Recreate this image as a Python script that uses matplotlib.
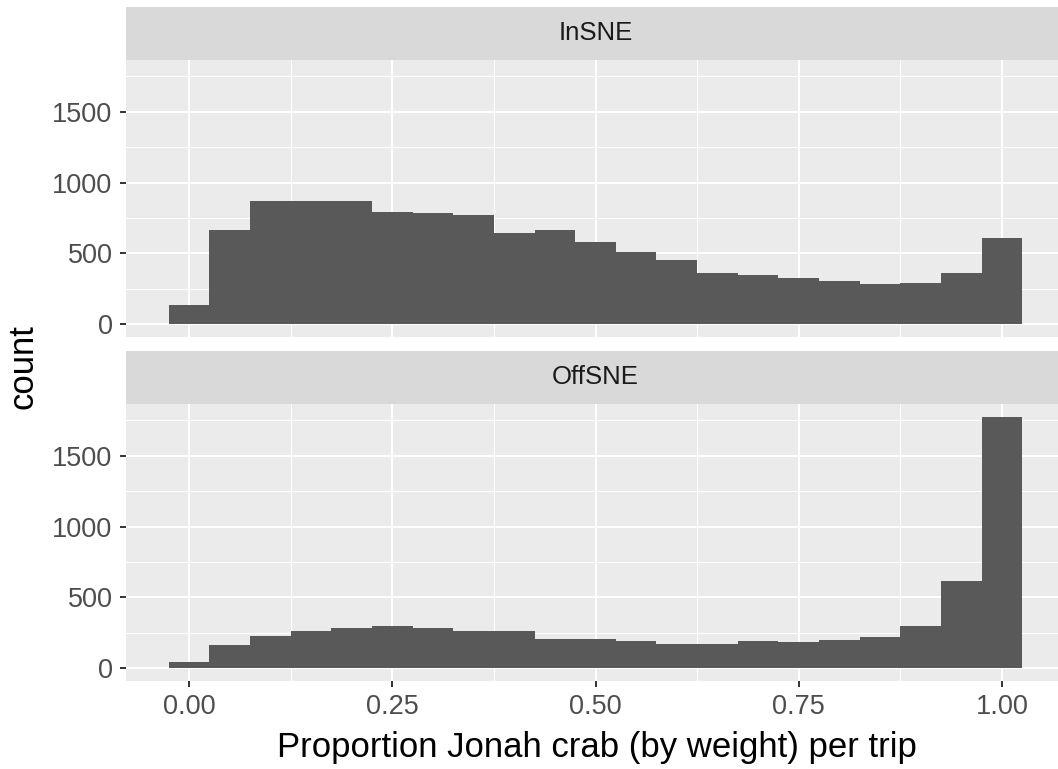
import matplotlib
matplotlib.use("Agg")
import matplotlib.pyplot as plt
import numpy as np

# ---- data ----
panels = ["InSNE", "OffSNE"]
bin_centers = [0.00, 0.05, 0.10, 0.15, 0.20, 0.25, 0.30, 0.35, 0.40, 0.45,
               0.50, 0.55, 0.60, 0.65, 0.70, 0.75, 0.80, 0.85, 0.90, 0.95, 1.00]
binwidth = 0.05
counts_insne = [140, 665, 872, 870, 868, 792, 783, 769, 646, 668,
                582, 511, 457, 365, 351, 330, 306, 288, 290, 365, 606]
counts_offsne = [47, 166, 230, 261, 285, 296, 285, 261, 261, 207,
                 207, 194, 175, 175, 194, 188, 199, 223, 296, 617, 1775]
x_ticks = [0.00, 0.25, 0.50, 0.75, 1.00]
x_ticklabels = ["0.00", "0.25", "0.50", "0.75", "1.00"]
y_ticks = [0, 500, 1000, 1500]
y_ticklabels = ["0", "500", "1000", "1500"]
x_title = "Proportion Jonah crab (by weight) per trip"
y_title = "count"

plt.rcParams['font.family'] = ['Liberation Sans', 'DejaVu Sans']

W, H = 1058, 769
fig = plt.figure(figsize=(W / 100, H / 100), dpi=100)
fig.patch.set_facecolor("white")

def fx(px):
    return px / W

def fy(py_top, py_bottom):
    return (H - py_bottom) / H, (py_bottom - py_top) / H

left_px, right_px = 126, 1065
layout = [  # strip top, strip bottom/panel top, panel bottom
    (7, 60, 337),
    (351, 404, 681),
]

xmin_data = bin_centers[0] - binwidth / 2
xmax_data = bin_centers[-1] + binwidth / 2
xr = xmax_data - xmin_data
xlim = (xmin_data - 0.05 * xr, xmax_data + 0.05 * xr)
ymax_data = max(max(counts_insne), max(counts_offsne))
ylim = (-0.05 * ymax_data, 1.05 * ymax_data)

series = [counts_insne, counts_offsne]
tick_color = "#333333"
label_color = "#4D4D4D"
tick_fs = 19.5
title_fs = 25

for i, (name, counts) in enumerate(zip(panels, series)):
    st, pt, pb = layout[i]
    # strip
    b, h = fy(st, pt)
    sax = fig.add_axes([fx(left_px), b, fx(right_px - left_px), h])
    sax.set_facecolor("#D9D9D9")
    sax.set_xticks([]); sax.set_yticks([])
    for s in sax.spines.values():
        s.set_visible(False)
    sax.text((595.5 - left_px) / (right_px - left_px), 0.5, name,
             transform=sax.transAxes, ha="center", va="center",
             fontsize=18.5, color="#1A1A1A")

    # panel
    b, h = fy(pt, pb)
    ax = fig.add_axes([fx(left_px), b, fx(right_px - left_px), h])
    ax.set_facecolor("#EBEBEB")
    ax.set_xlim(xlim)
    ax.set_ylim(ylim)
    for s in ax.spines.values():
        s.set_visible(False)
    ax.set_axisbelow(True)
    ax.set_xticks(x_ticks)
    ax.set_yticks(y_ticks)
    ax.set_xticks([0.125, 0.375, 0.625, 0.875], minor=True)
    ax.set_yticks([250, 750, 1250, 1750], minor=True)
    ax.grid(which="major", color="white", linewidth=1.5)
    ax.grid(which="minor", color="white", linewidth=0.75)
    ax.tick_params(which="minor", length=0)
    ax.tick_params(which="major", length=4.2, width=1.4, color=tick_color,
                   labelcolor=label_color, labelsize=tick_fs)
    ax.tick_params(axis="y", pad=5.5)
    ax.set_yticklabels(y_ticklabels)
    if i == 1:
        ax.set_xticklabels(x_ticklabels)
        ax.tick_params(axis="x", pad=5.5)
    else:
        ax.tick_params(axis="x", labelbottom=False, length=0)

    ax.bar(bin_centers, counts, width=binwidth, color="#595959",
           edgecolor="none", linewidth=0, align="center", zorder=2)

fig.text(fx(597), 1 - 748 / H, x_title, ha="center", va="center",
         fontsize=title_fs, color="black")
fig.text(fx(23), 1 - 367 / H, y_title, ha="center", va="center",
         rotation=90, fontsize=title_fs, color="black")

fig.savefig("out.png", dpi=100, facecolor="white")
